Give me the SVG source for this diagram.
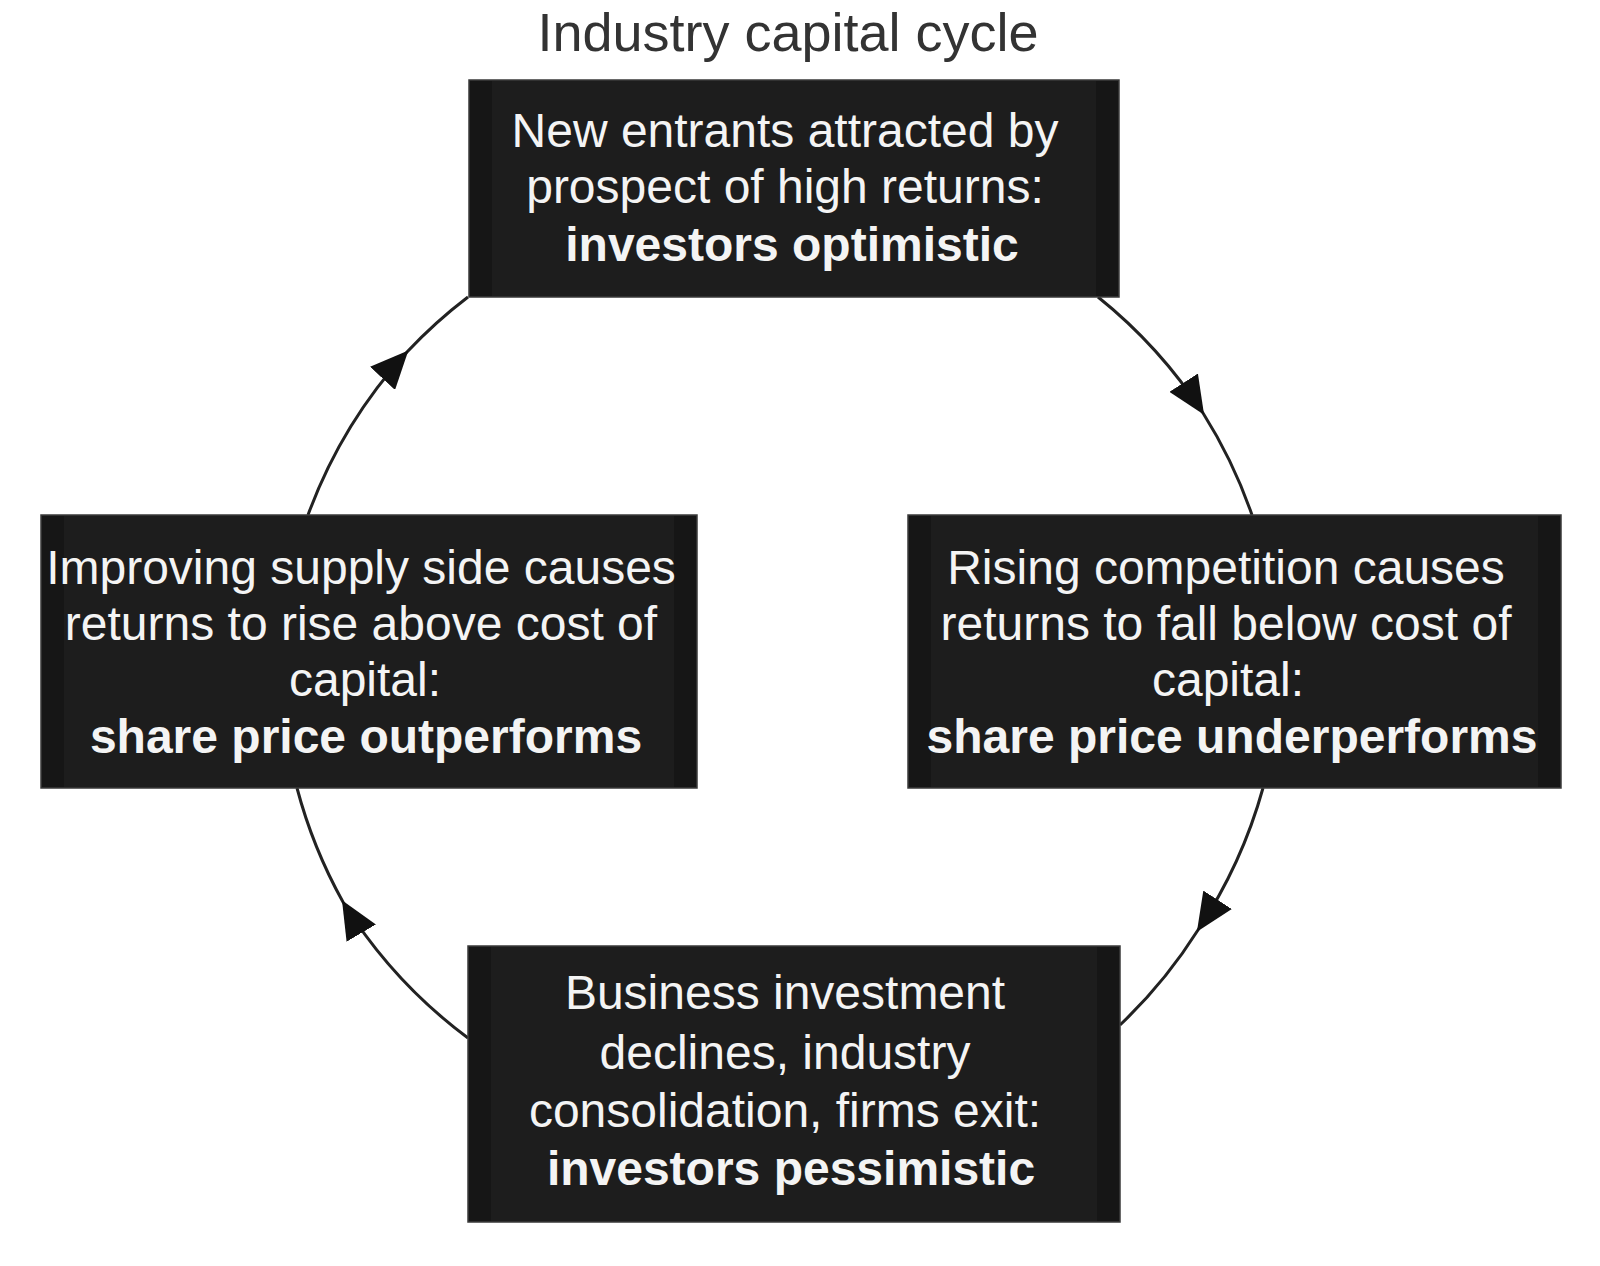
<svg xmlns="http://www.w3.org/2000/svg" width="1600" height="1266" viewBox="0 0 1600 1266">
<style>
.box{fill:#1d1d1d;stroke:#3a3a3a;stroke-width:1.5}
.band{fill:#161616}
.t{font-family:"Liberation Sans",Arial,sans-serif;font-size:48px;fill:#f4f4f4;text-anchor:middle}
.b{font-weight:bold}
.title{font-family:"Liberation Sans",Arial,sans-serif;font-size:54px;fill:#333;text-anchor:middle}
.arc{fill:none;stroke:#222;stroke-width:3;marker-mid:url(#arr)}
</style>
<defs>
<marker id="arr" markerUnits="userSpaceOnUse" markerWidth="38" markerHeight="34" viewBox="0 0 38 34" refX="36" refY="17" orient="auto">
<path d="M0,0 L38,17 L0,34 Z" fill="#111"/>
</marker>
</defs>
<rect width="1600" height="1266" fill="#fff"/>
<text class="title" x="788" y="51">Industry capital cycle</text>

<g id="connectors">
<path class="arc" d="M1098,297 A494,494 0 0 1 1203,413 A494,494 0 0 1 1252,515"/>
<path class="arc" d="M1263,788 A494,494 0 0 1 1198,930 A494,494 0 0 1 1120,1025"/>
<path class="arc" d="M468,1038 A494,494 0 0 1 343,902 A494,494 0 0 1 297,788"/>
<path class="arc" d="M308,515 A494,494 0 0 1 407,352 A494,494 0 0 1 468,297"/>
</g>

<g id="node-top">
<rect class="box" x="469" y="80" width="650" height="217"/>
<rect class="band" x="470" y="81" width="22" height="215"/>
<rect class="band" x="1096" y="81" width="22" height="215"/>
<text class="t" x="785" y="147">New entrants attracted by</text>
<text class="t" x="785" y="203">prospect of high returns:</text>
<text class="t b" x="792" y="261">investors optimistic</text>
</g>

<g id="node-right">
<rect class="box" x="908" y="515" width="653" height="273"/>
<rect class="band" x="909" y="516" width="22" height="271"/>
<rect class="band" x="1538" y="516" width="22" height="271"/>
<text class="t" x="1226" y="584">Rising competition causes</text>
<text class="t" x="1226" y="640">returns to fall below cost of</text>
<text class="t" x="1228" y="696">capital:</text>
<text class="t b" x="1232" y="753">share price underperforms</text>
</g>

<g id="node-bottom">
<rect class="box" x="468" y="946" width="652" height="276"/>
<rect class="band" x="469" y="947" width="22" height="274"/>
<rect class="band" x="1097" y="947" width="22" height="274"/>
<text class="t" x="785" y="1009">Business investment</text>
<text class="t" x="785" y="1069">declines, industry</text>
<text class="t" x="785" y="1127">consolidation, firms exit:</text>
<text class="t b" x="791" y="1185">investors pessimistic</text>
</g>

<g id="node-left">
<rect class="box" x="41" y="515" width="656" height="273"/>
<rect class="band" x="42" y="516" width="22" height="271"/>
<rect class="band" x="674" y="516" width="22" height="271"/>
<text class="t" x="361" y="584">Improving supply side causes</text>
<text class="t" x="361" y="640">returns to rise above cost of</text>
<text class="t" x="365" y="696">capital:</text>
<text class="t b" x="366" y="753">share price outperforms</text>
</g>
</svg>
